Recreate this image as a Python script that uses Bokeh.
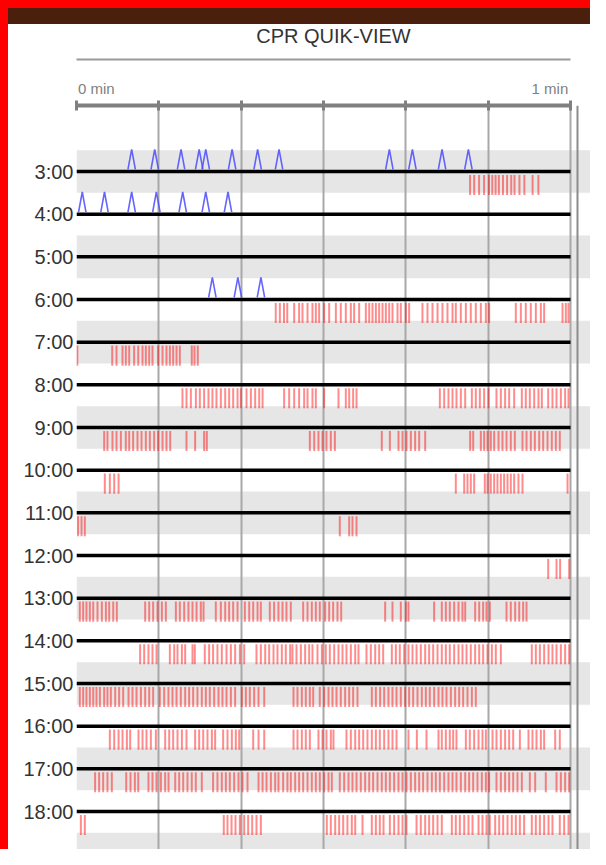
from bokeh.plotting import figure
from bokeh.models import Range1d, LinearAxis, FixedTicker, Grid, Span
from bokeh.embed import file_html
from bokeh.resources import INLINE

# ---------------- data ----------------
hours = [3, 4, 5, 6, 7, 8, 9, 10, 11, 12, 13, 14, 15, 16, 17, 18, 19]
hour_labels = ["3:00", "4:00", "5:00", "6:00", "7:00", "8:00", "9:00", "10:00", "11:00",
               "12:00", "13:00", "14:00", "15:00", "16:00", "17:00", "18:00", "19:00"]
shaded_hours = [3, 5, 7, 9, 11, 13, 15, 17, 19]
time_ticks = [0, 10, 20, 30, 40, 50, 60]          # seconds within the minute
time_labels = ["0 min", "1 min"]

# ventilations (seconds), drawn above the hour line
vent_03 = [6.7, 9.5, 12.7, 14.9, 15.7, 18.9, 22.0, 24.6, 38.0, 40.8, 44.4, 47.6]
vent_04 = [0.7, 3.4, 6.7, 9.7, 12.9, 15.7, 18.4]
vent_06 = [16.5, 19.6, 22.4]

# compressions (seconds), drawn below the hour line
comp_03 = [47.8, 48.3, 48.9, 49.5, 50.1, 50.5, 50.9, 51.3, 51.8, 52.3, 52.8, 53.2, 53.8, 54.4, 55.4, 56.1]
comp_06 = [24.2, 24.7, 25.2, 25.6, 26.44, 27.04, 27.45, 28.06, 28.66, 29.07, 29.47,
           30.08, 30.69, 31.5, 32.1, 32.71, 33.32, 33.72, 34.33, 35.14, 35.55, 35.95, 36.36,
           36.76, 37.17, 37.57, 37.98, 38.38, 38.99, 39.39, 40.0, 40.4,
           42.02, 42.63, 43.24, 43.85, 44.45, 45.06, 45.67, 46.07, 46.68, 47.29, 47.89, 48.5,
           49.11, 49.72, 50.12, 53.36, 53.97, 54.57, 55.18, 55.79, 56.4, 56.8, 59.03, 59.43, 59.76]
comp_07 = [0.1, 4.34, 4.86, 5.59, 5.99, 6.4, 7.0, 7.5, 8.02, 8.42, 8.83, 9.23, 9.92, 10.45,
           10.93, 11.34, 11.74, 12.15, 12.55, 14.0, 14.33, 14.73]
comp_08 = [12.87, 13.36, 13.89, 14.5, 14.98, 15.5, 16.03, 16.51, 17.0, 17.53, 18.06, 18.54,
           19.03, 19.56, 19.96, 20.65, 21.18, 21.7, 22.19, 22.6,
           25.22, 25.83, 26.44, 27.04, 27.65, 28.06, 28.66, 29.07, 30.08,
           31.82, 32.71, 33.12, 33.6, 34.01,
           44.13, 44.66, 45.18, 45.67, 46.15, 46.68, 47.21, 48.02, 48.5, 48.99, 49.51, 50.04,
           51.01, 51.54, 52.06, 52.55, 53.16, 54.09, 54.57, 55.06, 55.59, 56.11, 56.52,
           57.29, 57.81, 58.3, 58.83, 59.35, 59.76]
comp_09 = [3.36, 3.76, 4.37, 4.86, 5.39, 5.99, 6.4, 6.88, 7.41, 7.9, 8.42, 8.91, 9.43, 9.92,
           10.45, 10.93, 11.38, 13.36, 14.41, 15.5, 15.83,
           28.34, 28.87, 29.39, 29.88, 30.36, 30.89, 31.38, 37.08, 38.06,
           39.11, 39.6, 40.08, 40.61, 41.13, 41.62, 42.35, 47.81, 48.18,
           49.11, 49.51, 49.92, 50.32, 50.73, 51.26, 51.74, 52.23, 52.75, 53.24,
           54.17, 54.66, 55.18, 55.67, 56.2, 56.68, 57.21, 57.73, 58.22, 58.7]
comp_10 = [3.44, 4.05, 4.58, 5.11, 46.07, 47.09, 47.49, 47.89, 48.3,
           49.59, 49.92, 50.32, 50.73, 51.13, 51.54, 51.94, 52.35, 52.75, 53.16, 53.68, 54.17, 59.64]
comp_11 = [0.19, 0.61, 1.01, 31.98, 33.12, 33.52, 34.01]
comp_12 = [57.29, 58.3, 58.74, 59.84]
comp_13 = [0.4, 0.81, 1.21, 1.62, 2.03, 2.55, 3.08, 3.57, 3.97, 4.46, 4.9,
           8.34, 8.83, 9.31, 9.84, 10.37, 10.85, 12.07, 12.55, 13.08, 13.6, 14.09, 14.58, 15.1, 15.43,
           16.92, 17.53, 18.06, 18.54, 19.03, 19.56, 20.45, 20.98, 21.46, 21.99, 22.39,
           23.48, 24.0, 24.53, 25.02, 25.5, 26.03, 27.53, 28.06, 28.58, 29.07, 29.55,
           30.2, 30.69, 31.17, 31.7, 32.15, 37.49, 38.38, 39.39, 40.0, 40.32, 43.44,
           44.37, 44.86, 45.34, 45.87, 46.4, 46.88, 47.21, 48.42, 48.91, 49.39, 49.8, 50.2,
           52.23, 52.75, 53.28, 53.77, 54.25, 54.66]
comp_14 = [7.73, 8.22, 8.74, 9.23, 9.72, 11.34, 11.87, 12.27, 12.8, 13.2, 14.09, 14.37,
           15.58, 16.11, 16.59, 17.12, 17.65, 18.22, 18.75, 19.27, 19.84, 20.37,
           21.86, 22.39, 22.92, 23.4, 23.93, 24.41, 24.94, 25.42, 25.95,
           26.23, 26.72, 27.25, 27.77, 28.26, 28.66, 29.27, 29.8, 30.28, 30.77, 31.3, 31.82,
           32.31, 32.79, 33.32, 33.85, 34.25, 35.22, 35.75, 36.28, 36.76, 37.25,
           38.3, 38.79, 39.27, 39.8, 40.32, 40.81, 41.3, 41.82, 42.35, 42.83, 43.32, 43.85,
           44.37, 44.86, 45.34, 45.87, 46.4, 46.88, 47.37, 47.89, 48.42, 48.91, 49.39, 49.92,
           50.45, 50.93, 51.54, 55.3, 55.79, 56.28, 56.8, 57.33, 57.81, 58.3, 58.83, 59.35, 59.84]
comp_15 = [0.4, 0.81, 1.21, 1.62, 2.03, 2.43, 2.84, 3.36, 3.76, 4.17, 4.7, 5.18, 5.67,
           6.32, 6.8, 7.29, 7.82, 8.34, 8.83, 9.31, 10.12, 10.65, 11.17, 11.66, 12.15, 12.67,
           13.2, 13.68, 14.17, 14.69, 15.22, 15.71, 16.19, 16.72, 17.25, 17.73, 18.22, 18.75,
           19.27, 20.08, 20.57, 21.05, 21.58, 22.11, 22.8,
           26.36, 26.84, 27.37, 27.85, 28.34, 28.75, 29.55, 30.08, 30.61, 31.09, 31.58, 32.1,
           32.63, 33.12, 33.6, 34.13, 35.87, 36.36, 36.88, 37.37, 37.89, 38.38, 38.87, 39.39,
           39.92, 40.4, 40.89, 41.42, 41.94, 42.43, 42.91, 43.44, 43.97, 44.45, 44.94, 45.47,
           45.99, 46.48, 46.96, 47.49, 48.02, 48.5]
comp_16 = [4.05, 4.58, 5.11, 5.59, 6.12, 6.52, 7.53, 8.02, 8.5, 9.03, 9.64,
           10.77, 11.26, 11.74, 12.27, 12.8, 13.36, 14.41, 14.9, 15.39, 15.91, 16.44, 16.84,
           17.81, 18.34, 18.87, 19.35, 19.76, 21.46, 22.11, 22.8,
           26.36, 26.84, 27.37, 27.85, 28.34, 29.39, 29.88, 30.36, 30.89, 31.21,
           32.79, 33.32, 33.85, 34.33, 34.82, 35.34, 35.87, 36.36, 36.84, 37.37, 37.89, 38.38, 38.87,
           40.32, 41.34, 42.51, 43.97, 44.37, 44.86, 45.34, 45.75, 46.15,
           47.29, 47.77, 48.3, 48.83, 49.31, 49.72, 50.53, 51.01, 51.54, 52.06, 52.55, 53.04, 53.85,
           54.9, 55.38, 55.87, 56.4, 56.8, 58.14, 58.7]
comp_17 = [2.26, 2.75, 3.24, 3.76, 4.29, 6.04, 6.56, 7.09, 7.5, 8.74, 9.23, 9.72, 10.25, 10.77, 11.18,
           11.99, 12.47, 12.96, 13.48, 14.0, 14.49, 15.22, 16.59, 17.12, 17.65, 18.14, 18.62,
           19.15, 19.68, 20.16, 20.77, 22.11, 22.6, 23.08, 23.61, 24.13, 24.53, 25.1, 25.62,
           26.03, 26.56, 27.04, 27.53, 28.06, 28.58, 29.07, 29.55, 30.08, 30.61, 31.01,
           31.98, 32.51, 33.04, 33.52, 34.01, 34.53, 35.06, 35.55, 36.03, 36.56, 37.08, 37.57,
           38.06, 38.58, 39.11, 39.6, 40.08, 40.61, 41.13, 41.62, 42.1, 42.63, 43.16, 43.64,
           44.13, 44.66, 45.18, 45.67, 46.15, 46.68, 47.21, 47.69, 48.18, 48.7, 49.23, 49.72, 50.12,
           51.01, 51.54, 52.06, 52.55, 53.04, 53.56, 54.09, 55.06, 55.71, 57.0,
           58.3, 58.83, 59.35, 59.84]
comp_18 = [0.53, 1.01, 17.89, 18.34, 18.83, 19.31, 19.84, 20.37, 20.85, 21.34, 21.86, 22.39,
           30.4, 30.89, 31.42, 31.9, 32.39, 32.91, 33.44, 33.85, 34.74, 35.87, 36.36, 36.84, 37.29,
           38.06, 38.58, 39.11, 39.6, 40.08, 41.3, 41.82, 42.35, 42.83, 43.32, 43.85, 44.37,
           45.59, 46.07, 46.56, 47.09, 47.61, 48.1, 48.83, 49.31, 49.8, 50.2,
           50.85, 51.34, 51.82, 52.35, 52.87, 53.36, 53.85, 54.37,
           55.3, 55.79, 56.28, 56.8, 57.33, 57.81, 58.7, 59.23, 59.76]

compressions = {3: comp_03, 6: comp_06, 7: comp_07, 8: comp_08, 9: comp_09, 10: comp_10,
                11: comp_11, 12: comp_12, 13: comp_13, 14: comp_14, 15: comp_15, 16: comp_16,
                17: comp_17, 18: comp_18}
ventilations = {3: vent_03, 4: vent_04, 6: vent_06}

# ---------------- figure ----------------
X_END = 62.43
p = figure(width=590, height=849,
           x_range=Range1d(0, X_END), y_range=Range1d(18.89, 1.453),
           x_axis_type=None, y_axis_type=None,
           toolbar_location=None, output_backend="svg",
           min_border_left=76, min_border_right=0, min_border_top=105, min_border_bottom=0)
p.border_fill_color = None
p.background_fill_color = "#ffffff"
p.outline_line_color = None
p.styles = {"background": "linear-gradient(to right, #ff0000 8px, transparent 8px), "
                          "linear-gradient(to bottom, #ff0000 8px, #4a1f0c 8px, #4a1f0c 24px, #ffffff 24px)"}

p.title.text = "CPR QUIK-VIEW"
p.title.align = "center"
p.title.offset = -49
p.title.standoff = 25
p.title.text_font = "Liberation Sans"
p.title.text_font_size = "20px"
p.title.text_font_style = "normal"
p.title.text_color = "#333333"

# alternating row bands
p.quad(left=0, right=X_END,
       top=[h - 0.5 for h in shaded_hours], bottom=[h + 0.5 for h in shaded_hours],
       fill_color="#e6e6e6", line_color=None, level="image")

# vertical grid lines every 10 s
p.add_layout(Grid(dimension=0, ticker=FixedTicker(ticks=time_ticks),
                  grid_line_color="#a8a8a8", grid_line_width=2))
p.add_layout(Span(location=60.85, dimension="height", line_color="#8c8c8c", line_width=2))

# compressions
cx, cy0, cy1 = [], [], []
for h, ts in compressions.items():
    for t in ts:
        cx.append(t)
        cy0.append(h + 0.08)
        cy1.append(h + 0.55)
p.segment(x0=cx, y0=cy0, x1=cx, y1=cy1, line_color="#ff0000", line_alpha=0.45, line_width=2)

# hour lines
p.segment(x0=time_ticks[0], x1=time_ticks[-1], y0=hours, y1=hours,
          line_color="#000000", line_width=3.5)

# ventilations as caret shapes
vx, vy = [], []
for h, ts in ventilations.items():
    for t in ts:
        vx.append([t - 0.45, t, t + 0.45])
        vy.append([h - 0.05, h - 0.52, h - 0.05])
p.multi_line(xs=vx, ys=vy, line_color="#4a4aff", line_width=1.6, line_alpha=0.85)

# top time axis (thick bar with crossing ticks)
top_axis = LinearAxis(ticker=FixedTicker(ticks=time_ticks), bounds=(time_ticks[0], time_ticks[-1]),
                      axis_line_width=4, axis_line_color="#808080",
                      major_tick_in=5, major_tick_out=5, major_tick_line_width=3,
                      major_tick_line_color="#808080", minor_tick_line_color=None,
                      major_label_overrides={t: "" for t in time_ticks},
                      major_label_text_font_size="0px", major_label_standoff=0)
p.add_layout(top_axis, "above")

# "0 min" / "1 min" labels, centred so that they start / end at the bar ends
label_pos = [time_ticks[0] + 2.4, time_ticks[-1] - 2.5]
label_axis = LinearAxis(ticker=FixedTicker(ticks=label_pos),
                        major_label_overrides=dict(zip(label_pos, time_labels)),
                        axis_line_color=None, major_tick_line_color=None, minor_tick_line_color=None,
                        major_tick_in=0, major_tick_out=0, major_label_standoff=4,
                        major_label_text_font="Liberation Sans", major_label_text_font_size="15px",
                        major_label_text_color="#808080",
                        axis_label=" ", axis_label_standoff=3, axis_label_text_font_size="10px")
p.add_layout(label_axis, "above")

# thin rule above the labels
rule_axis = LinearAxis(ticker=FixedTicker(ticks=[]), bounds=(time_ticks[0], time_ticks[-1]),
                       axis_line_width=2, axis_line_color="#9a9a9a",
                       major_tick_in=0, major_tick_out=0, minor_tick_line_color=None,
                       major_label_text_font_size="0px", major_label_standoff=0)
p.add_layout(rule_axis, "above")

# hour labels axis
left_axis = LinearAxis(ticker=FixedTicker(ticks=hours),
                       major_label_overrides=dict(zip(hours, hour_labels)),
                       axis_line_color=None, major_tick_line_color=None, minor_tick_line_color=None,
                       major_tick_in=0, major_tick_out=0, major_label_standoff=3,
                       major_label_text_font="Liberation Sans", major_label_text_font_size="20px",
                       major_label_text_color="#333333")
p.add_layout(left_axis, "left")

open("out.html", "w").write(file_html(p, INLINE))
